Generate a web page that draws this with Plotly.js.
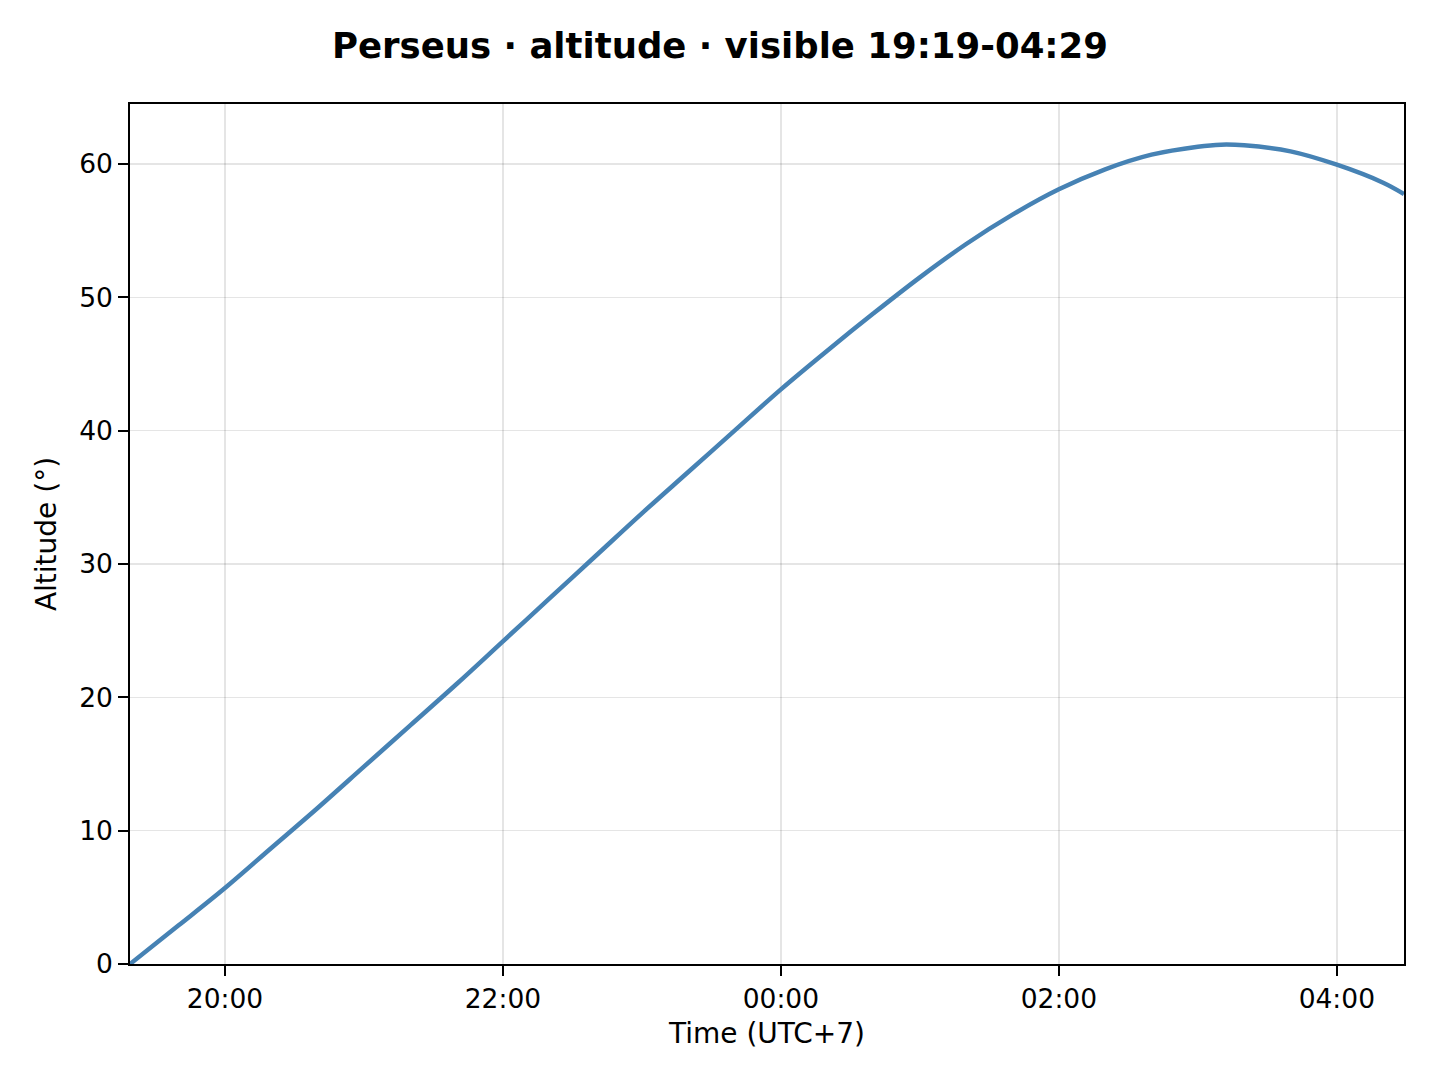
<!DOCTYPE html>
<html>
<head>
<meta charset="utf-8">
<script src="https://cdn.plot.ly/plotly-3.0.1.min.js"></script>
<style>
  html, body { margin: 0; padding: 0; background: #fff; }
  #chart { width: 1440px; height: 1080px; }
</style>
</head>
<body>
<div id="chart"></div>
<script>
// sample times (local, UTC+7) and altitude in degrees
var times = [
  '2024-01-01 19:19', '2024-01-01 19:40', '2024-01-01 20:00', '2024-01-01 20:20',
  '2024-01-01 20:40', '2024-01-01 21:00', '2024-01-01 21:20', '2024-01-01 21:40',
  '2024-01-01 22:00', '2024-01-01 22:20', '2024-01-01 22:40', '2024-01-01 23:00',
  '2024-01-01 23:20', '2024-01-01 23:40', '2024-01-02 00:00', '2024-01-02 00:20',
  '2024-01-02 00:40', '2024-01-02 01:00', '2024-01-02 01:20', '2024-01-02 01:40',
  '2024-01-02 02:00', '2024-01-02 02:20', '2024-01-02 02:40', '2024-01-02 03:00',
  '2024-01-02 03:10', '2024-01-02 03:20', '2024-01-02 03:40', '2024-01-02 04:00',
  '2024-01-02 04:20', '2024-01-02 04:29'
];
var altitude = [
  0.0, 2.9, 5.7, 8.7,
  11.7, 14.8, 17.9, 21.0,
  24.2, 27.4, 30.6, 33.8,
  36.9, 40.0, 43.1, 46.0,
  48.8, 51.5, 54.0, 56.2,
  58.1, 59.6, 60.7, 61.3,
  61.45, 61.4, 60.95, 59.95,
  58.6, 57.75
];
var xTicks = ['2024-01-01 20:00', '2024-01-01 22:00', '2024-01-02 00:00', '2024-01-02 02:00', '2024-01-02 04:00'];
var xTickLabels = ['20:00', '22:00', '00:00', '02:00', '04:00'];

var font = 'DejaVu Sans, sans-serif';

var trace = {
  x: times,
  y: altitude,
  mode: 'lines',
  type: 'scatter',
  line: {color: '#4682b4', width: 4.5, shape: 'spline', smoothing: 1},
  hoverinfo: 'x+y'
};

var axisCommon = {
  showline: true,
  linecolor: '#000',
  linewidth: 1.8,
  mirror: true,
  ticks: 'outside',
  ticklen: 10,
  tickwidth: 1.8,
  tickcolor: '#000',
  showgrid: true,
  gridcolor: 'rgba(0,0,0,0.1)',
  gridwidth: 1.6,
  zeroline: false,
  tickfont: {family: font, size: 26.5, color: '#000'}
};

var layout = {
  width: 1440,
  height: 1080,
  margin: {l: 130, r: 36, t: 104, b: 116},
  paper_bgcolor: '#fff',
  plot_bgcolor: '#fff',
  showlegend: false,
  title: {
    text: '<b>Perseus · altitude · visible 19:19-04:29</b>',
    font: {family: font, size: 35.5, color: '#000'},
    x: 0.5, xanchor: 'center',
    y: 0.958, yref: 'container', yanchor: 'middle'
  },
  xaxis: Object.assign({}, axisCommon, {
    type: 'date',
    range: ['2024-01-01 19:19', '2024-01-02 04:29'],
    tickmode: 'array',
    tickvals: xTicks,
    ticktext: xTickLabels,
    title: {text: 'Time (UTC+7)', font: {family: font, size: 28, color: '#000'}, standoff: 11}
  }),
  yaxis: Object.assign({}, axisCommon, {
    range: [0, 64.5],
    tickmode: 'linear',
    tick0: 0,
    dtick: 10,
    title: {text: 'Altitude (°)', font: {family: font, size: 28, color: '#000'}, standoff: 14}
  })
};

Plotly.newPlot('chart', [trace], layout, {displayModeBar: false, staticPlot: true});
</script>
</body>
</html>
